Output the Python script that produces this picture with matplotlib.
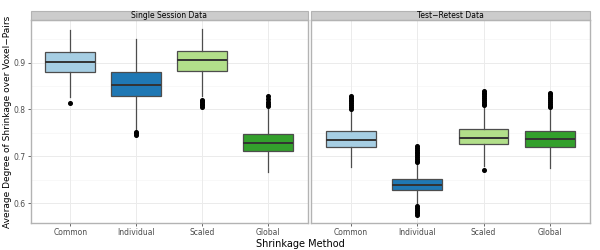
import matplotlib
matplotlib.use("Agg")
import matplotlib.pyplot as plt
import matplotlib.patches as mpatches

# Shrinkage methods and box summaries
methods = ["Common", "Individual", "Scaled", "Global"]
colors = ["#A6CEE3", "#1F78B4", "#B2DF8A", "#33A02C"]
panels = ["Single Session Data", "Test\u2212Retest Data"]

# Single session data
ss_whislo = [0.826, 0.757, 0.828, 0.666]
ss_q1 = [0.881, 0.828, 0.883, 0.711]
ss_med = [0.901, 0.852, 0.905, 0.728]
ss_q3 = [0.923, 0.879, 0.925, 0.748]
ss_whishi = [0.970, 0.951, 0.972, 0.802]
ss_fliers = [
    [0.813],
    [0.750, 0.746, 0.752],
    [0.821, 0.818, 0.815, 0.812, 0.809, 0.806],
    [0.828, 0.822, 0.816, 0.811, 0.807],
]

# Test-retest data
tr_whislo = [0.678, 0.596, 0.680, 0.676]
tr_q1 = [0.719, 0.628, 0.726, 0.720]
tr_med = [0.734, 0.639, 0.740, 0.736]
tr_q3 = [0.753, 0.652, 0.759, 0.755]
tr_whishi = [0.800, 0.685, 0.806, 0.803]
tr_fliers = [
    [0.829, 0.825, 0.821, 0.817, 0.813, 0.809, 0.805, 0.802],
    [0.722, 0.718, 0.714, 0.710, 0.706, 0.702, 0.698, 0.694, 0.690, 0.687,
     0.593, 0.589, 0.585, 0.581, 0.578, 0.575],
    [0.840, 0.836, 0.832, 0.828, 0.824, 0.820, 0.816, 0.812, 0.809, 0.671],
    [0.836, 0.832, 0.828, 0.824, 0.820, 0.816, 0.812, 0.808, 0.805],
]

yticks = [0.6, 0.7, 0.8, 0.9]
yminor = [0.65, 0.75, 0.85, 0.95]


def make_stats(lo, q1, med, q3, hi, fl):
    stats = []
    for i in range(len(methods)):
        stats.append({"whislo": lo[i], "q1": q1[i], "med": med[i], "q3": q3[i],
                      "whishi": hi[i], "fliers": fl[i], "label": methods[i]})
    return stats


fig = plt.figure(figsize=(6, 2.5), dpi=100)
ax1 = fig.add_axes([0.051, 0.107, 0.462, 0.813])
ax2 = fig.add_axes([0.518, 0.107, 0.465, 0.813])

data = [
    make_stats(ss_whislo, ss_q1, ss_med, ss_q3, ss_whishi, ss_fliers),
    make_stats(tr_whislo, tr_q1, tr_med, tr_q3, tr_whishi, tr_fliers),
]

for ax, stats, title in zip([ax1, ax2], data, panels):
    ax.set_facecolor("white")
    for y in yminor:
        ax.axhline(y, color="#F7F7F7", lw=0.6, zorder=0)
    for y in yticks:
        ax.axhline(y, color="#EBEBEB", lw=0.7, zorder=0)
    for x in range(1, 5):
        ax.axvline(x, color="#EBEBEB", lw=0.7, zorder=0)
    bp = ax.bxp(stats, positions=[1, 2, 3, 4], widths=0.75, patch_artist=True,
                showcaps=False,
                boxprops=dict(edgecolor="#4D4D4D", linewidth=0.9),
                medianprops=dict(color="#333333", linewidth=1.4),
                whiskerprops=dict(color="#4D4D4D", linewidth=0.9),
                flierprops=dict(marker="o", markersize=2.6, markerfacecolor="black",
                                markeredgecolor="black"))
    for patch, c in zip(bp["boxes"], colors):
        patch.set_facecolor(c)
        patch.set_zorder(2)
    ax.set_xlim(0.4, 4.6)
    ax.set_ylim(0.557, 0.991)
    ax.set_yticks(yticks)
    ax.set_xticks([1, 2, 3, 4])
    ax.set_xticklabels(methods)
    ax.tick_params(labelsize=5.5, length=2, width=0.6, color="#4D4D4D",
                   labelcolor="#4D4D4D", pad=1.5)
    for s in ax.spines.values():
        s.set_color("#B3B3B3")
        s.set_linewidth(1.0)
    # facet strip
    rect = mpatches.Rectangle((0, 1.0), 1, 0.043, transform=ax.transAxes,
                              fc="#CCCCCC", ec="#B3B3B3", lw=0.8, clip_on=False)
    ax.add_patch(rect)
    ax.text(0.5, 1.0215, title, transform=ax.transAxes, ha="center", va="center",
            fontsize=5.5, color="black")

ax1.set_yticklabels(["0.6", "0.7", "0.8", "0.9"])
ax2.tick_params(axis="y", left=False, labelleft=False)

fig.text(0.5, 0.025, "Shrinkage Method", ha="center", va="center", fontsize=7)
fig.text(0.012, 0.513, "Average Degree of Shrinkage over Voxel\u2212Pairs",
         ha="center", va="center", rotation=90, fontsize=6.5)

fig.savefig("out.png", dpi=100)
